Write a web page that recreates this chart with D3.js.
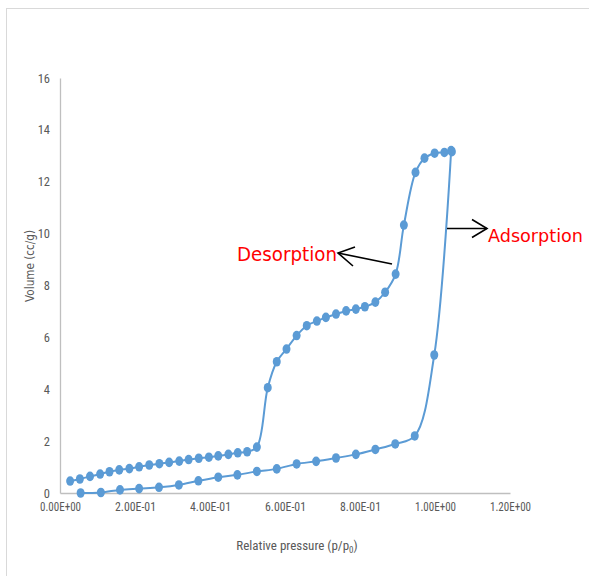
<!DOCTYPE html>
<html><head><meta charset="utf-8">
<script src="https://cdn.jsdelivr.net/npm/d3@7"></script>
<style>body{margin:0;background:#fff}svg{display:block}</style>
</head><body>
<script>
// Data
const adsorptionX = [0.055,0.109,0.160,0.211,0.264,0.317,0.369,0.422,0.473,0.525,0.578,0.631,0.683,0.736,0.789,0.841,0.894,0.946,0.998,1.043];
const adsorptionY = [0.00,0.02,0.12,0.17,0.22,0.31,0.47,0.61,0.70,0.83,0.93,1.12,1.22,1.35,1.49,1.68,1.89,2.20,5.32,13.20];
const desorptionX = [0.027,0.053,0.080,0.107,0.132,0.158,0.185,0.211,0.238,0.265,0.291,0.318,0.343,0.370,0.397,0.422,0.449,0.474,0.499,0.525,0.554,0.578,0.604,0.631,0.658,0.685,0.709,0.736,0.763,0.789,0.813,0.841,0.867,0.895,0.917,0.948,0.972,0.999,1.025,1.045];
const desorptionY = [0.46,0.54,0.64,0.73,0.82,0.89,0.94,1.01,1.08,1.13,1.18,1.23,1.29,1.34,1.38,1.43,1.49,1.55,1.59,1.77,4.06,5.06,5.55,6.07,6.45,6.63,6.77,6.90,7.02,7.09,7.18,7.36,7.74,8.44,10.33,12.36,12.91,13.10,13.13,13.16];
const xTicks = [0,0.2,0.4,0.6,0.8,1.0,1.2];
const xTickLabels = ["0.00E+00","2.00E-01","4.00E-01","6.00E-01","8.00E-01","1.00E+00","1.20E+00"];
const yTicks = [0,2,4,6,8,10,12,14,16];

const W=589,H=576;
const svg=d3.select("body").append("svg").attr("width",W).attr("height",H);
svg.append("rect").attr("x",6.5).attr("y",8.5).attr("width",W).attr("height",H)
  .attr("fill","#fff").attr("stroke","#d9d9d9").attr("stroke-width",1);

const x=d3.scaleLinear().domain([0,1.2]).range([60,510]);
const y=d3.scaleLinear().domain([0,16]).range([493,78]);
const narrow="'Liberation Sans Narrow','Arial Narrow','Roboto Condensed',Roboto,sans-serif";

// axes
const xAxis=d3.axisBottom(x).tickValues(xTicks).tickFormat((d,i)=>xTickLabels[i]).tickSize(0).tickPadding(9);
const gx=svg.append("g").attr("transform","translate(0,"+y(0)+")").call(xAxis);
gx.select(".domain").attr("stroke","#bfbfbf").attr("stroke-width",1.3);
gx.selectAll("text").attr("fill","#595959").attr("font-family",narrow).attr("font-size",12)
  .attr("textLength",41).attr("lengthAdjust","spacingAndGlyphs");

const yAxis=d3.axisLeft(y).tickValues(yTicks).tickFormat(d3.format("d")).tickSize(0).tickPadding(10);
const gy=svg.append("g").attr("transform","translate("+x(0)+",0)").call(yAxis);
gy.select(".domain").attr("stroke","#bfbfbf").attr("stroke-width",1.3);
gy.selectAll("text").attr("fill","#595959").attr("font-family",narrow).attr("font-size",12.5);

// axis titles
svg.append("text").attr("transform","translate(34,266) rotate(-90)").attr("text-anchor","middle")
  .attr("fill","#595959").attr("font-family","'DejaVu Sans',Verdana,sans-serif").attr("font-size",12.5)
  .attr("textLength",72).attr("lengthAdjust","spacingAndGlyphs").text("Volume (cc/g)");
const xt=svg.append("text").attr("x",297).attr("y",550).attr("text-anchor","middle")
  .attr("fill","#595959").attr("font-family",narrow).attr("font-size",13);
xt.append("tspan").text("Relative pressure (p/p");
xt.append("tspan").attr("font-size",9).attr("dy",3).text("0");
xt.append("tspan").attr("dy",-3).text(")");

// series
const blue="#5b9bd5";
const line=d3.line().x(d=>x(d[0])).y(d=>y(d[1])).curve(d3.curveCatmullRom.alpha(0.5));
const ads=adsorptionX.map((v,i)=>[v,adsorptionY[i]]);
const des=desorptionX.map((v,i)=>[v,desorptionY[i]]);
[ads,des].forEach(s=>{
  svg.append("path").datum(s).attr("d",line).attr("fill","none").attr("stroke",blue).attr("stroke-width",2);
  svg.append("g").selectAll("ellipse").data(s).join("ellipse")
    .attr("cx",d=>x(d[0])).attr("cy",d=>y(d[1])).attr("rx",4).attr("ry",4.8).attr("fill",blue);
});

// annotations
const ann=svg.append("g").attr("stroke","#000").attr("stroke-width",1.6).attr("fill","none");
ann.append("line").attr("x1",392).attr("y1",264).attr("x2",338).attr("y2",253);
ann.append("polyline").attr("points","355,247 338,253 353,266");
ann.append("line").attr("x1",447).attr("y1",228.5).attr("x2",487).attr("y2",228.5);
ann.append("polyline").attr("points","472,219.5 487,228.5 472,237.5");
svg.append("text").attr("x",237).attr("y",261).attr("fill","#ff0000").attr("font-family","'DejaVu Sans',Verdana,sans-serif")
  .attr("font-size",19).attr("textLength",100).attr("lengthAdjust","spacingAndGlyphs").text("Desorption");
svg.append("text").attr("x",488).attr("y",242).attr("fill","#ff0000").attr("font-family","'DejaVu Sans',Verdana,sans-serif")
  .attr("font-size",17.5).attr("textLength",95).attr("lengthAdjust","spacingAndGlyphs").text("Adsorption");
</script>
</body></html>
